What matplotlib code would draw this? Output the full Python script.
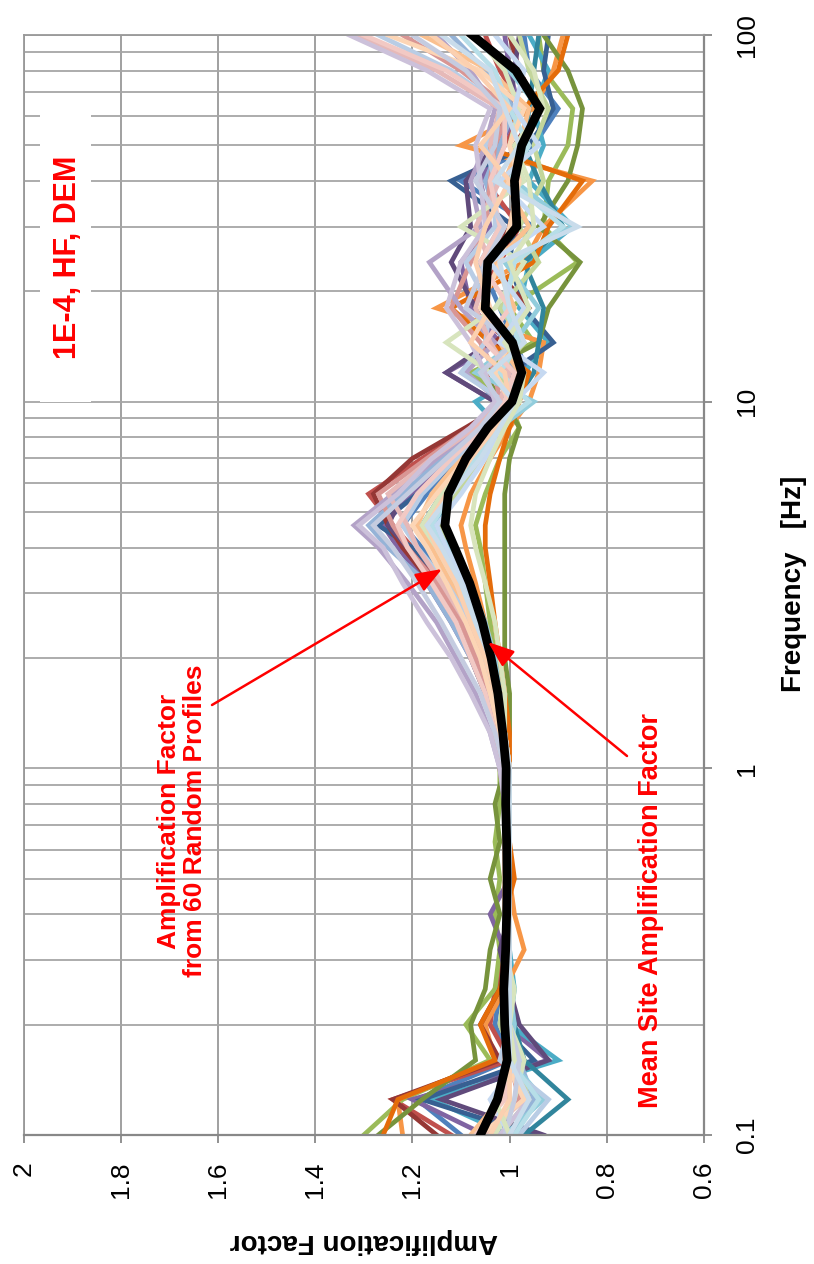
import matplotlib
matplotlib.use("Agg")
import matplotlib.pyplot as plt
from matplotlib.patches import Rectangle
from matplotlib.ticker import FixedLocator, FixedFormatter, NullFormatter

# ---------------- data ----------------
freq = [0.1, 0.125, 0.16, 0.2, 0.25, 0.32, 0.4, 0.5, 0.63, 0.8, 1.0, 1.25, 1.6, 2.0, 2.5, 3.2,
        4.0, 4.6, 5.6, 7.0, 8.5, 10, 12, 14.5, 18, 24, 30, 40, 50, 63, 80, 100]

mean_amp = [1.06, 1.025, 1.005, 1.01, 1.012, 1.008, 1.006, 1.005, 1.006, 1.008, 1.007, 1.014, 1.024,
            1.038, 1.056, 1.082, 1.113, 1.133, 1.126, 1.09, 1.045, 0.995, 0.975, 0.994, 1.05, 1.045,
            0.985, 0.99, 0.975, 0.938, 0.987, 1.077]

p01 = [1.10,1.19,1.00,1.03,1.02,1.01,1.00,1.01,1.01,1.00,1.01,1.02,1.03,1.05,1.08,1.12,1.18,1.22,1.17,1.10,1.04,1.00,0.96,0.99,1.02,1.06,0.95,1.10,0.95,0.90,0.96,0.97]
p02 = [1.12,1.24,1.00,1.04,1.03,1.01,1.00,1.01,1.00,1.01,1.01,1.02,1.04,1.07,1.10,1.15,1.20,1.24,1.29,1.18,1.08,1.02,1.05,1.00,1.08,1.02,0.98,1.05,1.01,0.97,1.02,1.05]
p03 = [1.30,1.22,1.04,1.09,1.03,1.02,1.03,1.02,1.03,1.02,1.02,1.01,1.02,1.03,1.04,1.05,1.06,1.07,1.05,1.02,0.98,1.00,1.08,0.95,1.00,0.86,0.93,0.92,0.88,0.87,0.93,0.94]
p04 = [1.05,1.20,0.92,1.01,1.00,1.01,1.04,1.00,1.01,1.00,1.01,1.03,1.05,1.08,1.12,1.17,1.23,1.26,1.20,1.12,1.05,1.03,1.13,1.02,1.08,1.10,1.04,1.06,1.02,0.98,1.00,1.01]
p05 = [1.00,1.16,0.90,1.00,0.99,1.00,1.01,1.00,1.00,1.01,1.00,1.01,1.02,1.04,1.06,1.09,1.13,1.15,1.12,1.06,1.02,1.07,0.97,0.92,0.98,0.96,0.87,0.96,0.93,0.95,0.92,0.96]
p06 = [1.22,1.23,1.03,1.05,1.01,0.97,0.99,1.00,1.01,1.00,1.00,1.01,1.02,1.03,1.05,1.07,1.09,1.10,1.08,1.04,1.00,0.96,0.94,0.93,1.15,0.97,0.93,0.83,1.10,0.95,0.91,0.89]
p07 = [0.95,1.18,0.95,1.02,1.00,1.00,1.00,1.01,1.00,1.00,1.01,1.02,1.04,1.06,1.09,1.13,1.20,1.27,1.19,1.10,1.04,0.99,1.00,0.91,0.97,1.00,0.99,1.12,0.96,0.91,0.93,0.92]
p08 = [1.15,1.24,1.02,1.06,1.02,1.00,1.00,1.00,1.01,1.01,1.02,1.03,1.05,1.08,1.11,1.16,1.22,1.25,1.28,1.20,1.09,1.00,0.98,1.03,0.96,1.04,1.00,0.98,0.99,0.94,0.98,1.00]
p09 = [1.27,1.18,1.07,1.08,1.05,1.04,1.02,1.04,1.02,1.03,1.01,1.00,1.00,1.01,1.01,1.01,1.01,1.01,1.01,1.00,0.98,1.01,1.06,0.94,0.92,0.855,0.94,0.88,0.86,0.85,0.88,0.93]
p10 = [0.93,1.14,0.92,0.98,1.00,1.02,1.00,1.00,1.01,1.00,1.00,1.02,1.04,1.06,1.09,1.15,1.21,1.25,1.22,1.13,1.06,1.03,1.13,1.04,1.07,1.12,1.08,1.09,1.03,1.00,0.99,0.98]
p11 = [0.97,0.88,0.97,0.99,1.00,1.00,1.00,1.01,1.00,1.00,1.01,1.02,1.03,1.05,1.07,1.10,1.15,1.18,1.14,1.08,1.03,0.99,0.95,0.94,0.93,0.97,0.89,0.94,0.97,0.96,0.95,0.94]
p12 = [1.26,1.23,1.03,1.06,1.02,1.00,1.01,0.99,1.00,1.01,1.00,1.00,1.01,1.02,1.03,1.04,1.05,1.05,1.04,1.02,1.00,0.98,0.96,1.04,1.12,0.95,0.92,0.85,1.06,0.97,0.90,0.88]
p13 = [1.00,0.95,0.98,1.00,1.01,1.00,1.01,1.00,1.01,1.00,1.01,1.03,1.05,1.08,1.12,1.17,1.25,1.29,1.22,1.14,1.06,1.01,0.99,1.01,1.05,1.06,1.02,1.05,1.02,0.99,1.05,1.12]
p14 = [1.04,0.98,1.00,1.01,1.00,1.00,1.00,1.01,1.01,1.00,1.01,1.02,1.04,1.07,1.10,1.15,1.21,1.24,1.27,1.17,1.08,1.02,1.03,1.06,1.12,1.08,1.05,1.04,1.03,1.00,1.10,1.22]
p15 = [1.02,0.96,0.99,1.02,1.01,1.01,1.00,1.00,1.00,1.01,1.00,1.01,1.02,1.04,1.06,1.09,1.12,1.14,1.11,1.06,1.02,0.99,1.02,0.97,1.02,0.94,0.98,0.93,0.95,0.92,0.96,0.98]
p16 = [1.03,1.00,1.01,1.00,1.00,1.01,1.00,1.00,1.01,1.01,1.02,1.04,1.07,1.11,1.15,1.21,1.27,1.32,1.24,1.15,1.07,1.02,1.09,1.03,1.10,1.165,1.06,1.08,1.05,1.03,1.08,1.15]
p17 = [1.01,0.93,1.00,0.99,1.00,1.00,1.01,1.00,1.00,1.00,1.00,1.01,1.02,1.03,1.05,1.08,1.12,1.17,1.13,1.07,1.02,0.95,1.07,0.99,0.94,1.01,0.87,0.99,0.97,0.94,1.00,1.08]
p18 = [1.08,1.02,0.99,1.01,1.01,1.00,1.01,1.01,1.00,1.01,1.01,1.02,1.03,1.05,1.08,1.12,1.16,1.19,1.16,1.10,1.04,1.00,0.98,1.02,0.99,1.03,0.96,1.01,0.98,0.96,1.04,1.18]
p19 = [0.98,0.92,1.02,1.00,1.00,1.00,1.00,1.01,1.00,1.00,1.00,1.01,1.03,1.05,1.08,1.13,1.19,1.22,1.18,1.11,1.05,1.01,1.10,1.05,1.04,1.09,1.03,1.03,1.05,1.01,1.12,1.27]
p20 = [1.05,0.97,1.01,1.01,1.00,1.00,1.01,1.00,1.01,1.01,1.00,1.02,1.04,1.06,1.09,1.14,1.19,1.21,1.25,1.16,1.07,1.02,1.00,1.04,1.07,1.04,1.07,1.02,1.04,1.02,1.15,1.31]
p21 = [1.03,0.99,0.97,1.00,0.99,1.01,1.00,1.01,1.00,1.01,1.01,1.02,1.03,1.05,1.07,1.11,1.15,1.18,1.14,1.08,1.03,0.98,1.04,1.13,1.03,0.97,1.10,0.97,1.00,0.98,1.01,1.07]
p22 = [1.02,0.96,1.00,1.01,1.01,1.00,1.01,1.00,1.00,1.01,1.02,1.04,1.08,1.12,1.17,1.22,1.26,1.31,1.23,1.16,1.08,1.03,1.05,1.08,1.13,1.10,1.05,1.06,1.07,1.04,1.17,1.33]
p23 = [0.99,0.94,1.00,1.00,1.00,1.00,1.00,1.00,1.01,1.00,1.01,1.02,1.03,1.05,1.07,1.10,1.14,1.16,1.12,1.07,1.03,0.96,1.02,0.98,1.01,0.99,0.89,1.00,0.96,1.00,1.03,1.10]
p24 = [1.06,0.97,1.01,1.00,1.01,1.00,1.00,1.01,1.01,1.00,1.01,1.02,1.04,1.06,1.09,1.13,1.17,1.20,1.15,1.09,1.04,1.00,1.03,1.00,1.06,1.02,1.00,0.98,1.00,0.97,1.06,1.25]
p25 = [1.00,1.04,0.98,1.01,1.00,1.01,1.01,1.00,1.00,1.00,1.00,1.01,1.02,1.04,1.06,1.09,1.13,1.15,1.10,1.05,1.02,0.99,0.93,1.02,0.97,1.04,0.93,1.02,0.94,0.99,0.97,1.03]
p26 = [1.07,1.01,1.00,1.01,1.00,1.00,1.01,1.00,1.00,1.01,1.01,1.03,1.05,1.08,1.11,1.16,1.21,1.23,1.19,1.12,1.05,1.01,0.99,1.05,1.00,1.06,1.02,1.04,1.01,1.01,1.13,1.30]
p27 = [1.01,0.99,0.98,1.00,1.01,1.00,1.00,1.00,1.00,1.00,1.01,1.03,1.06,1.10,1.14,1.19,1.24,1.28,1.21,1.13,1.06,1.02,1.06,0.99,1.09,1.05,1.01,1.07,1.03,1.02,1.09,1.20]
p28 = [1.00,1.03,0.99,1.00,1.00,1.00,1.00,1.00,1.00,1.00,1.00,1.01,1.01,1.02,1.03,1.05,1.07,1.08,1.07,1.04,1.01,0.98,0.97,1.01,0.96,1.00,0.95,0.96,0.99,0.93,0.95,1.00]
p29 = [1.04,1.00,1.00,1.01,1.00,1.00,1.00,1.00,1.01,1.01,1.00,1.01,1.03,1.05,1.08,1.11,1.15,1.17,1.13,1.08,1.03,1.00,1.01,1.08,1.04,1.07,1.05,1.00,1.06,1.00,1.07,1.16]
p30 = [1.00,0.96,1.00,1.00,1.00,1.00,1.00,1.00,1.00,1.00,1.00,1.01,1.02,1.04,1.07,1.10,1.14,1.17,1.12,1.06,1.02,0.99,1.04,0.97,1.00,1.02,0.86,1.03,0.98,1.01,1.04,1.14]

profiles = [p01, p02, p03, p04, p05, p06, p07, p08, p09, p10, p11, p12, p13, p14, p15,
            p16, p17, p18, p19, p20, p21, p22, p23, p24, p25, p26, p27, p28, p29, p30]

profile_colors = ["#4F81BD", "#C0504D", "#9BBB59", "#8064A2", "#4BACC6", "#F79646",
                  "#376092", "#953735", "#77933C", "#604A7B", "#31859C", "#E46C0A",
                  "#95B3D7", "#D99694", "#C3D69B", "#B3A2C7", "#92CDDC", "#FAC08F",
                  "#B9CDE5", "#E6B9B8", "#D7E4BD", "#CCC1DA", "#B7DEE8", "#FCD5B5",
                  "#C6D9F1", "#F2C9C4", "#C5CCE0", "#D8E4BC", "#FBD0B0", "#C9DCEB"]

amp_ticks = [2.0, 1.8, 1.6, 1.4, 1.2, 1.0, 0.8, 0.6]
amp_labels = ["2", "1.8", "1.6", "1.4", "1.2", "1", "0.8", "0.6"]
freq_ticks = [0.1, 1, 10, 100]
freq_labels = ["0.1", "1", "10", "100"]
freq_minor = [m * d for d in (0.1, 1, 10) for m in range(2, 10)]

# ---------------- figure ----------------
plt.rcParams["font.family"] = ["Liberation Sans", "DejaVu Sans"]
W, H = 814, 1264
fig = plt.figure(figsize=(W / 100, H / 100), dpi=100)


def fx(px):
    return px / W


def fy(py):
    return 1 - py / H


ax = fig.add_axes([fx(23.5), fy(1135), fx(704) - fx(23.5), fy(35) - fy(1135)])
ax.set_yscale("log")
ax.set_xlim(2.0, 0.6)
ax.set_ylim(0.1, 100)
ax.set_axisbelow(True)

for vals, col in zip(profiles, profile_colors):
    ax.plot(vals, freq, color=col, lw=3.4, solid_joinstyle="miter", zorder=2)
ax.plot(mean_amp, freq, color="black", lw=6.3, solid_joinstyle="miter", zorder=3)

ax.xaxis.set_major_locator(FixedLocator(amp_ticks))
ax.xaxis.set_major_formatter(FixedFormatter(amp_labels))
ax.yaxis.set_major_locator(FixedLocator(freq_ticks))
ax.yaxis.set_major_formatter(FixedFormatter(freq_labels))
ax.yaxis.set_minor_locator(FixedLocator(freq_minor))
ax.yaxis.set_minor_formatter(NullFormatter())
ax.yaxis.tick_right()

gcol = "#A6A6A6"
ax.grid(True, which="major", axis="x", color="#999999", lw=1.3)
ax.grid(True, which="both", axis="y", color=gcol, lw=1.3)

ax.tick_params(axis="x", which="major", direction="out", length=6, width=1.3,
               color="#888888", labelsize=19, labelrotation=90, pad=13)
ax.tick_params(axis="y", which="major", direction="out", length=6, width=1.3,
               color="#888888", labelsize=19, labelrotation=90, pad=16)
ax.tick_params(axis="y", which="minor", length=0)
for lab in ax.get_yticklabels():
    lab.set_va("center")

for s in ("left", "top"):
    ax.spines[s].set_color("#999999")
    ax.spines[s].set_linewidth(1.3)
for s in ("right", "bottom"):
    ax.spines[s].set_color("#888888")
    ax.spines[s].set_linewidth(1.6)

# white box for case label
ax.add_patch(Rectangle((fx(40), fy(402)), fx(91) - fx(40), fy(115) - fy(402),
                       transform=fig.transFigure, facecolor="white", edgecolor="none",
                       zorder=1.5, clip_on=False))

red = "#FF0000"
fig.text(fx(68), fy(257), "1E-4, HF, DEM", color=red, fontsize=22, fontweight="bold",
         rotation=90, ha="center", va="center", zorder=6)
fig.text(fx(182), fy(821), "Amplification Factor\nfrom 60 Random Profiles", color=red,
         fontsize=19, fontweight="bold", rotation=90, ha="center", va="center",
         multialignment="center", linespacing=1.1, zorder=6)
fig.text(fx(651), fy(911), "Mean Site Amplification Factor", color=red, fontsize=19.5,
         fontweight="bold", rotation=90, ha="center", va="center", zorder=6)

arrow_kw = dict(arrowstyle="-|>,head_length=0.8,head_width=0.3", color=red, lw=1.8,
                shrinkA=0, shrinkB=0, mutation_scale=20)
ax.annotate("", xy=(fx(442), fy(569)), xycoords="figure fraction",
            xytext=(fx(212), fy(705)), textcoords="figure fraction",
            arrowprops=arrow_kw, zorder=6)
ax.annotate("", xy=(fx(488), fy(642)), xycoords="figure fraction",
            xytext=(fx(627), fy(756)), textcoords="figure fraction",
            arrowprops=arrow_kw, zorder=6)

fig.text(fx(364), fy(1241), "Amplification Factor", fontsize=20, fontweight="bold",
         rotation=180, ha="center", va="center")
fig.text(fx(794), fy(584), "Frequency   [Hz]", fontsize=20, fontweight="bold",
         rotation=90, ha="center", va="center")

fig.savefig("out.png", dpi=100, facecolor="white")
